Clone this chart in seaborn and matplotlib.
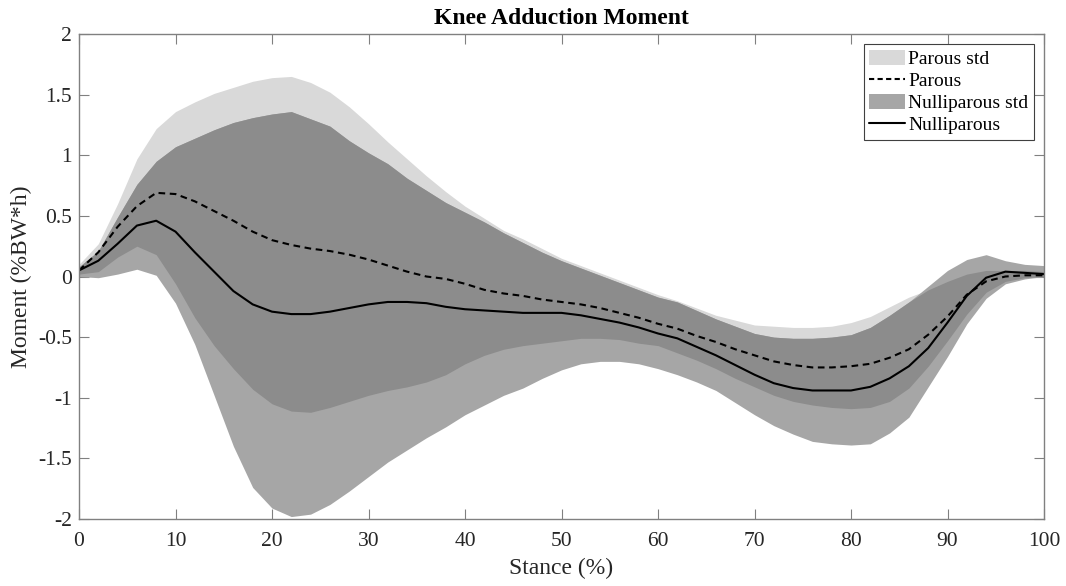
import numpy as np
import pandas as pd
import matplotlib
matplotlib.use("Agg")
import matplotlib.pyplot as plt
from matplotlib.patches import Patch
from matplotlib.lines import Line2D
import seaborn as sns

# Stance phase, percent
stance = np.arange(0, 101, 2)

# Mean knee adduction moment (%BW*h)
parous_mean = [0.05, 0.20, 0.41, 0.58, 0.69, 0.68, 0.62, 0.54, 0.46, 0.37,
               0.30, 0.26, 0.23, 0.21, 0.18, 0.14, 0.09, 0.04, 0.00, -0.02,
               -0.06, -0.11, -0.14, -0.16, -0.19, -0.21, -0.23, -0.26, -0.30, -0.34,
               -0.39, -0.43, -0.49, -0.54, -0.60, -0.65, -0.70, -0.73, -0.75, -0.75,
               -0.74, -0.72, -0.67, -0.60, -0.48, -0.33, -0.15, -0.04, 0.00, 0.01,
               0.01]
nulli_mean = [0.05, 0.13, 0.27, 0.42, 0.46, 0.37, 0.20, 0.04, -0.12, -0.23,
              -0.29, -0.31, -0.31, -0.29, -0.26, -0.23, -0.21, -0.21, -0.22, -0.25,
              -0.27, -0.28, -0.29, -0.30, -0.30, -0.30, -0.32, -0.35, -0.38, -0.42,
              -0.47, -0.51, -0.58, -0.65, -0.73, -0.81, -0.88, -0.92, -0.94, -0.94,
              -0.94, -0.91, -0.84, -0.74, -0.59, -0.38, -0.16, -0.01, 0.04, 0.03,
              0.02]

# Mean +/- one standard deviation envelopes
parous_upper = [0.10, 0.27, 0.60, 0.97, 1.22, 1.36, 1.44, 1.51, 1.56, 1.61,
                1.64, 1.65, 1.60, 1.52, 1.40, 1.26, 1.11, 0.97, 0.83, 0.70,
                0.58, 0.48, 0.38, 0.31, 0.23, 0.15, 0.09, 0.03, -0.03, -0.09,
                -0.15, -0.20, -0.26, -0.32, -0.36, -0.40, -0.41, -0.42, -0.42, -0.41,
                -0.38, -0.33, -0.25, -0.17, -0.11, -0.04, 0.02, 0.05, 0.05, 0.05,
                0.04]
parous_lower = [0.02, 0.04, 0.16, 0.25, 0.18, -0.06, -0.34, -0.57, -0.76, -0.93,
                -1.05, -1.11, -1.12, -1.08, -1.03, -0.98, -0.94, -0.91, -0.87, -0.81,
                -0.72, -0.65, -0.60, -0.57, -0.55, -0.53, -0.51, -0.51, -0.52, -0.55,
                -0.57, -0.63, -0.69, -0.76, -0.84, -0.91, -0.98, -1.03, -1.06, -1.08,
                -1.09, -1.08, -1.03, -0.92, -0.74, -0.53, -0.31, -0.13, -0.04, -0.01,
                0.00]
nulli_upper = [0.08, 0.21, 0.49, 0.76, 0.95, 1.07, 1.14, 1.21, 1.27, 1.31,
               1.34, 1.36, 1.30, 1.24, 1.12, 1.02, 0.93, 0.81, 0.71, 0.61,
               0.53, 0.45, 0.36, 0.28, 0.20, 0.13, 0.07, 0.01, -0.05, -0.11,
               -0.17, -0.21, -0.28, -0.35, -0.41, -0.47, -0.50, -0.51, -0.51, -0.50,
               -0.48, -0.42, -0.32, -0.21, -0.08, 0.05, 0.14, 0.18, 0.13, 0.10,
               0.09]
nulli_lower = [0.00, -0.01, 0.02, 0.06, 0.01, -0.22, -0.56, -0.98, -1.40, -1.74,
               -1.91, -1.98, -1.96, -1.88, -1.77, -1.65, -1.53, -1.43, -1.33, -1.24,
               -1.14, -1.06, -0.98, -0.92, -0.84, -0.77, -0.72, -0.70, -0.70, -0.72,
               -0.76, -0.81, -0.87, -0.94, -1.04, -1.14, -1.23, -1.30, -1.36, -1.38,
               -1.39, -1.38, -1.29, -1.16, -0.91, -0.66, -0.39, -0.18, -0.06, -0.02,
               0.00]

x_ticks = [0, 10, 20, 30, 40, 50, 60, 70, 80, 90, 100]
y_ticks = [-2, -1.5, -1, -0.5, 0, 0.5, 1, 1.5, 2]
y_tick_labels = ["-2", "-1.5", "-1", "-0.5", "0", "0.5", "1", "1.5", "2"]

df = pd.DataFrame({
    "stance": stance,
    "parous": parous_mean,
    "nulli": nulli_mean,
})

sns.set_theme(style="ticks")
plt.rcParams["font.family"] = ["Liberation Serif", "DejaVu Serif"]

light_gray = "#d9d9d9"
mid_gray = "#a6a6a6"
dark_gray = "#8c8c8c"
axis_gray = "#808080"
text_color = "#262626"

fig = plt.figure(figsize=(10.66, 5.86), dpi=100)
ax = fig.add_axes([79 / 1066, 1 - 519 / 586, (1044 - 79) / 1066, (519 - 34) / 586])

pu = np.asarray(parous_upper)
pl = np.asarray(parous_lower)
nu = np.asarray(nulli_upper)
nl = np.asarray(nulli_lower)

# Standard deviation bands, with the shared region shaded darker
ax.fill_between(stance, pl, pu, color=light_gray, linewidth=0)
ax.fill_between(stance, nl, nu, color=mid_gray, linewidth=0)
lo = np.maximum(pl, nl)
hi = np.minimum(pu, nu)
ax.fill_between(stance, lo, hi, where=hi > lo, interpolate=True,
                color=dark_gray, linewidth=0)

# Group means
dash = (0, (3.2, 2.2))
sns.lineplot(data=df, x="stance", y="parous", ax=ax, color="black",
             linewidth=1.5, linestyle=dash)
sns.lineplot(data=df, x="stance", y="nulli", ax=ax, color="black",
             linewidth=1.5)

ax.set_xlim(0, 100)
ax.set_ylim(-2, 2)
ax.set_xticks(x_ticks)
ax.set_yticks(y_ticks)
ax.set_yticklabels(y_tick_labels)

ax.tick_params(direction="in", length=7, width=0.8, color=axis_gray,
               labelsize=15.5, labelcolor=text_color,
               top=True, right=True)
ax.tick_params(axis="x", pad=9.5)
ax.tick_params(axis="y", pad=5)
for sp in ax.spines.values():
    sp.set_visible(True)
    sp.set_color(axis_gray)
    sp.set_linewidth(1.0)

ax.set_title("Knee Adduction Moment", fontsize=17, fontweight="bold",
             color="black", pad=7)
ax.set_xlabel("Stance (%)", fontsize=17, color=text_color, labelpad=5)
ax.set_ylabel("Moment (%BW*h)", fontsize=17, color=text_color, labelpad=4)

handles = [
    Patch(facecolor=light_gray, edgecolor="none", label="Parous std"),
    Line2D([], [], color="black", linewidth=1.5, linestyle=(0, (2.5, 1.6)),
           label="Parous"),
    Patch(facecolor=mid_gray, edgecolor="none", label="Nulliparous std"),
    Line2D([], [], color="black", linewidth=1.5, label="Nulliparous"),
]
leg = ax.legend(handles=handles, loc="upper right", fontsize=14,
                frameon=True, fancybox=False, framealpha=1,
                edgecolor="#404040", borderpad=0.3, labelspacing=0.18,
                handlelength=1.85, handleheight=0.85, handletextpad=0.15,
                borderaxespad=0.5)
leg.get_frame().set_linewidth(0.8)
for t in leg.get_texts():
    t.set_color("black")

fig.savefig("out.png", dpi=100)
